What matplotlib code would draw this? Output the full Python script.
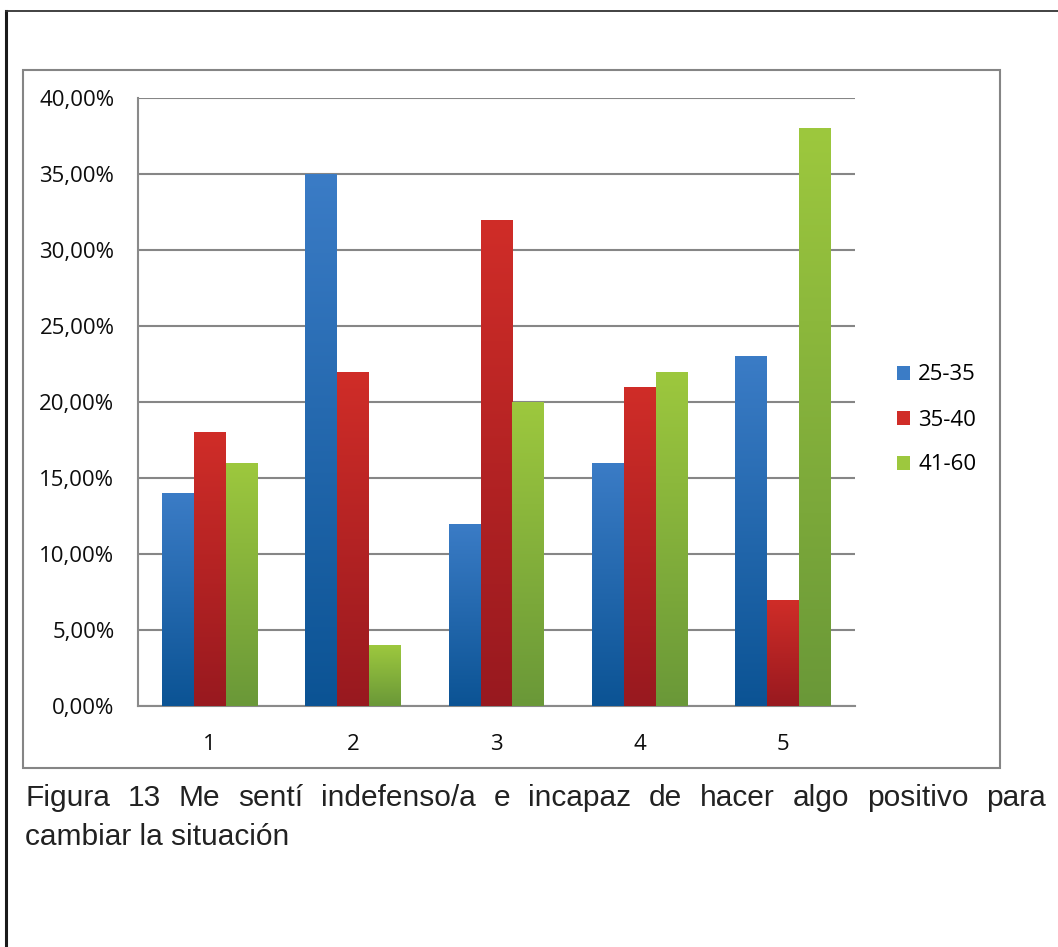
import numpy as np
import matplotlib
matplotlib.use("Agg")
import matplotlib.pyplot as plt
from matplotlib.colors import LinearSegmentedColormap
from matplotlib.patches import Rectangle
from matplotlib.lines import Line2D
from matplotlib.ticker import FuncFormatter, MultipleLocator

# datos: porcentaje por grupo de edad en cada nivel de respuesta
niveles = ["1", "2", "3", "4", "5"]
grupos = ["25-35", "35-40", "41-60"]
v_25_35 = [14, 35, 12, 16, 23]
v_35_40 = [18, 22, 32, 21, 7]
v_41_60 = [16, 4, 20, 22, 38]

# degradado (arriba, abajo) de cada serie
degradados = [("#3b7cc6", "#0b5394"),
              ("#d02d28", "#98191f"),
              ("#9dc83e", "#6a9838")]

caption = ("Figura 13 Me sentí indefenso/a e incapaz de hacer algo positivo para",
           "cambiar la situación")

W, H = 1058, 947
fig = plt.figure(figsize=(W / 100, H / 100), dpi=100)

def fx(px):
    return px / W

def fy(py):
    return 1 - py / H

# marco exterior de la página y recuadro del gráfico
fig.add_artist(Line2D([fx(6), fx(6)], [fy(11), 0], color="#1a1a1a", lw=2.2))
fig.add_artist(Line2D([fx(6), 1], [fy(11), fy(11)], color="#333333", lw=1.3))
fig.add_artist(Rectangle((fx(23), fy(768)), fx(1000) - fx(23), fy(70) - fy(768),
                         fill=False, edgecolor="#858585", lw=1.5))

ax = fig.add_axes([fx(138), fy(706), fx(855) - fx(138), fy(98) - fy(706)])

x = np.arange(1, len(niveles) + 1)
ancho = 0.223
series = [v_25_35, v_35_40, v_41_60]
for i, (vals, (c_top, c_bot), nombre) in enumerate(zip(series, degradados, grupos)):
    cmap = LinearSegmentedColormap.from_list(nombre, [c_bot, c_top])
    barras = ax.bar(x + (i - 1) * ancho, vals, width=ancho, color="none",
                    edgecolor="none", zorder=3)
    for b in barras:
        x0, y0 = b.get_x(), b.get_y()
        grad = np.linspace(0, 1, 256).reshape(-1, 1)
        im = ax.imshow(grad, cmap=cmap, origin="lower", aspect="auto",
                       extent=[x0, x0 + b.get_width(), y0, y0 + b.get_height()],
                       zorder=3)
        im.set_clip_path(b)

ax.set_xlim(0.5, 5.5)
ax.set_ylim(0, 40)
ax.set_xticks(x)
ax.set_xticklabels(niveles)
ax.yaxis.set_major_locator(MultipleLocator(5))
ax.yaxis.set_major_formatter(FuncFormatter(lambda v, p: f"{v:.2f}%".replace(".", ",")))
ax.grid(axis="y", color="#868686", lw=1.5, zorder=1)
ax.tick_params(length=0, labelsize=16, colors="#0d0d0d")
ax.tick_params(axis="y", pad=17)
ax.tick_params(axis="x", pad=20)
for lab in ax.get_xticklabels() + ax.get_yticklabels():
    lab.set_family("Open Sans")
for s in ["top", "right"]:
    ax.spines[s].set_visible(False)
for s in ["left", "bottom"]:
    ax.spines[s].set_color("#8a8a8a")
    ax.spines[s].set_linewidth(1.5)

handles = [Rectangle((0, 0), 1, 1, facecolor=c_top, edgecolor="none")
           for c_top, c_bot in degradados]
fig.legend(handles, grupos, loc="center left", bbox_to_anchor=(fx(877), fy(420)),
           frameon=False, prop={"family": "Open Sans", "size": 16},
           handlelength=0.6, handleheight=0.6, handletextpad=0.35,
           labelspacing=1.08)

# pie de figura justificado
fig.canvas.draw()
renderer = fig.canvas.get_renderer()
palabras = caption[0].split(" ")
izq, der = 25, 1046
textos = [fig.text(0, fy(798), p, family="Liberation Sans", fontsize=21.5,
                   va="center", color="#222222") for p in palabras]
anchos = [t.get_window_extent(renderer).width for t in textos]
hueco = (der - izq - sum(anchos)) / (len(palabras) - 1)
pos = izq
for t, w in zip(textos, anchos):
    t.set_x(fx(pos))
    pos += w + hueco
fig.text(fx(izq), fy(837), caption[1], family="Liberation Sans", fontsize=21.5,
         va="center", color="#222222")

fig.savefig("out.png", dpi=100)
